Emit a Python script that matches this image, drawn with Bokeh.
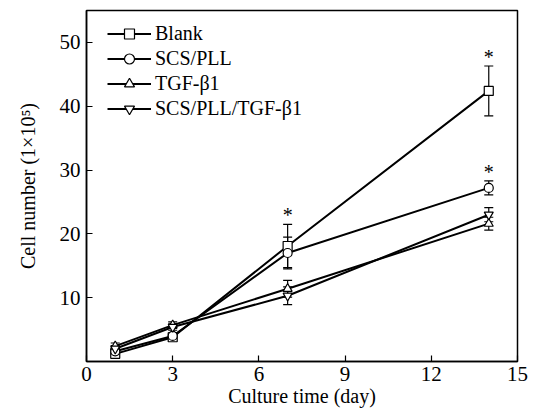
from bokeh.plotting import figure
from bokeh.models import Range1d, FixedTicker, Whisker, TeeHead, ColumnDataSource, Legend, LegendItem, Label
from bokeh.core.properties import value
from bokeh.embed import file_html
from bokeh.resources import INLINE

days = [1, 3, 7, 14]
x_ticks = [0, 3, 6, 9, 12, 15]
y_ticks = [0, 10, 20, 30, 40, 50]

series_names = ["Blank", "SCS/PLL", "TGF-\u03b21", "SCS/PLL/TGF-\u03b21"]
blank = [1.2, 3.8, 18.1, 42.4]
blank_err = [0.5, 0.5, 3.4, 3.9]
scs_pll = [1.6, 4.0, 17.0, 27.2]
scs_pll_err = [0.5, 0.5, 2.5, 1.1]
tgf = [2.4, 5.7, 11.4, 21.6]
tgf_err = [0.5, 0.5, 1.3, 1.0]
scs_tgf = [2.0, 5.4, 10.3, 23.0]
scs_tgf_err = [0.5, 0.5, 1.4, 1.1]

# significance marks: (series index, day index)
stars = [(0, 2), (0, 3), (1, 3)]

markers = ["square", "circle", "triangle", "inverted_triangle"]
values = [blank, scs_pll, tgf, scs_tgf]
errors = [blank_err, scs_pll_err, tgf_err, scs_tgf_err]

FONT = "Liberation Serif"

p = figure(frame_width=431, frame_height=351, output_backend="svg", toolbar_location=None,
           x_range=Range1d(0, 15), y_range=Range1d(0, 55),
           min_border_left=86, min_border_right=21, min_border_top=10, min_border_bottom=55)
p.grid.visible = False
p.outline_line_color = "black"
p.outline_line_width = 1.5
p.background_fill_color = "white"
p.border_fill_color = "white"

for ax in (p.xaxis[0], p.yaxis[0]):
    ax.axis_line_width = 1.5
    ax.major_tick_in = 6
    ax.major_tick_out = 0
    ax.major_tick_line_width = 1.2
    ax.minor_tick_line_color = None
    ax.major_label_text_font = FONT
    ax.major_label_text_font_size = "21px"
    ax.major_label_text_color = "black"
    ax.axis_label_text_font = FONT
    ax.axis_label_text_font_size = "20px"
    ax.axis_label_text_font_style = "normal"
    ax.axis_label_text_color = "black"

p.xaxis.ticker = FixedTicker(ticks=x_ticks)
p.yaxis.ticker = FixedTicker(ticks=y_ticks)
p.xaxis.axis_label = "Culture time (day)"
p.yaxis.axis_label = "Cell number (1\u00d710\u2075)"
p.xaxis.major_label_standoff = 5
p.yaxis.major_label_standoff = 6
p.xaxis.axis_label_standoff = 1
p.yaxis.axis_label_standoff = 18
p.yaxis.major_label_overrides = {0: ""}
p.add_layout(Label(x=0, y=0, text="0", x_offset=-6, y_offset=8, text_align="right",
                   text_baseline="middle", text_font=FONT, text_font_size="21px", text_color="black"))

items = []
for name, vals, errs, mk in zip(series_names, values, errors, markers):
    src = ColumnDataSource(dict(x=days, y=vals,
                                lo=[v - e for v, e in zip(vals, errs)],
                                hi=[v + e for v, e in zip(vals, errs)]))
    ln = p.line("x", "y", source=src, line_color="black", line_width=2)
    p.add_layout(Whisker(base="x", lower="lo", upper="hi", source=src, line_color="black", line_width=1.2,
                         upper_head=TeeHead(size=9, line_width=1.2, line_color="black"),
                         lower_head=TeeHead(size=9, line_width=1.2, line_color="black")))
    sc = p.scatter("x", "y", source=src, marker=mk, size=9, fill_color="white", line_color="black", line_width=1.2)
    items.append(LegendItem(label=name, renderers=[ln, sc]))

sx = [days[d] for s, d in stars]
sy = [values[s][d] + errors[s][d] for s, d in stars]
p.text(x=sx, y=sy, text=["*"] * len(sx), text_align="center", text_baseline="bottom", y_offset=2,
       text_font=value(FONT), text_font_size="20px", text_color="black")

legend = Legend(items=items, location=(21, 240), glyph_width=44, glyph_height=25, label_height=25,
                label_standoff=4, spacing=0, padding=0, margin=0, border_line_color=None,
                background_fill_alpha=0, label_text_font=FONT, label_text_font_size="20px",
                label_text_color="black")
p.add_layout(legend)

open("out.html", "w").write(file_html(p, INLINE))
